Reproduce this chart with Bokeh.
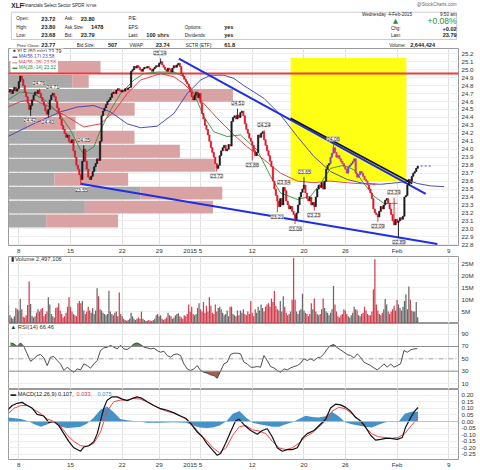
import numpy as np
from bokeh.plotting import figure
from bokeh.layouts import column
from bokeh.models import (Range1d, FixedTicker, ColumnDataSource, LabelSet, Label,
                          Span, PrintfTickFormatter)
from bokeh.core.properties import value
from bokeh.embed import file_html
from bokeh.resources import INLINE

FONT = "Liberation Sans"

# ---------------- data ----------------
# x = hourly bar index, 0 = Mon 8-Dec-2014 09:30 (Dec 24 is a 4-bar half day)
date_ticks = [0, 35, 70, 95, 116, 123, 158, 193, 221, 256, 291]
date_labels = ["8", "15", "22", "29", "2015", "5", "12", "20", "26", "Feb", "9"]

close = [
    24.72, 24.75, 24.70, 24.74, 24.78, 24.73, 24.76,   # Dec 5
    24.85, 24.92, 24.88, 24.80, 24.72, 24.66, 24.58,   # Dec 8
    24.50, 24.55, 24.62, 24.68, 24.72, 24.70, 24.74,   # Dec 9
    24.70, 24.65, 24.60, 24.55, 24.48, 24.44, 24.50,   # Dec 10
    24.62, 24.68, 24.70, 24.66, 24.60, 24.52, 24.45,   # Dec 11
    24.38, 24.30, 24.25, 24.20, 24.15, 24.18, 24.10,   # Dec 12
    24.08, 24.12, 23.98, 23.90, 23.80, 23.75, 23.68,   # Dec 15
    23.62, 23.85, 24.00, 23.85, 23.75, 23.65, 23.62,   # Dec 16
    23.66, 23.72, 23.78, 23.82, 23.88, 23.86, 24.10,   # Dec 17
    24.42, 24.48, 24.52, 24.56, 24.60, 24.62, 24.65,   # Dec 18
    24.70, 24.72, 24.70, 24.74, 24.76, 24.74, 24.72,   # Dec 19
    24.74, 24.73, 24.76, 24.75, 24.77, 24.78, 24.98,   # Dec 22
    25.00, 25.04, 25.02, 25.05, 25.03, 25.00, 24.98,   # Dec 23
    25.01, 25.03, 25.02, 25.04,                        # Dec 24
    25.02, 25.00, 24.98, 25.01, 25.03, 25.05, 25.04,   # Dec 26
    25.08, 25.10, 25.06, 25.03, 25.00, 24.98, 25.02,   # Dec 29
    25.00, 24.97, 25.02, 25.05, 25.03, 25.06, 25.08,   # Dec 30
    25.04, 24.95, 24.92, 24.88, 24.85, 24.82, 24.78,   # Dec 31
    24.72, 24.66, 24.62, 24.68, 24.72, 24.65, 24.70,   # Jan 2
    24.58, 24.45, 24.38, 24.30, 24.25, 24.18, 24.10,   # Jan 5
    24.02, 23.96, 23.90, 23.82, 23.76, 23.80, 23.92,   # Jan 6
    23.98, 24.02, 24.05, 23.98, 24.00, 24.06, 24.04,   # Jan 7
    24.35, 24.40, 24.42, 24.38, 24.43, 24.40, 24.46,   # Jan 8
    24.48, 24.42, 24.32, 24.25, 24.20, 24.14, 24.10,   # Jan 9
    24.05, 23.98, 23.92, 23.96, 24.18, 24.15, 24.20,   # Jan 12
    24.22, 24.12, 24.05, 23.98, 23.92, 23.85, 23.78,   # Jan 13
    23.60, 23.50, 23.42, 23.35, 23.28, 23.38, 23.30,   # Jan 14
    23.52, 23.48, 23.35, 23.30, 23.25, 23.28, 23.22,   # Jan 15
    23.18, 23.12, 23.20, 23.30, 23.40, 23.46, 23.50,   # Jan 16
    23.55, 23.45, 23.38, 23.35, 23.40, 23.30, 23.33,   # Jan 20
    23.28, 23.40, 23.50, 23.55, 23.52, 23.58, 23.50,   # Jan 21
    23.60, 23.75, 23.80, 23.82, 23.90, 23.95, 24.02,   # Jan 22
    23.96, 23.90, 23.92, 23.88, 23.85, 23.82, 23.78,   # Jan 23
    23.75, 23.70, 23.78, 23.80, 23.82, 23.85, 23.88,   # Jan 26
    23.70, 23.65, 23.68, 23.72, 23.70, 23.66, 23.62,   # Jan 27
    23.60, 23.55, 23.50, 23.45, 23.38, 23.25, 23.20,   # Jan 28
    23.18, 23.15, 23.22, 23.28, 23.25, 23.30, 23.36,   # Jan 29
    23.38, 23.32, 23.25, 23.18, 23.10, 23.05, 23.12,   # Jan 30
    23.08, 23.10, 23.14, 23.12, 23.16, 23.40, 23.42,   # Feb 2
    23.55, 23.62, 23.60, 23.66, 23.70, 23.72, 23.76,   # Feb 3
    23.79,                                             # Feb 4
]

volume_m = [
    7.8, 3.5, 2.5, 2.0, 3.0, 6.5, 6.0,
    5.5, 10.3, 6.0, 2.8, 2.5, 3.5, 7.8,
    17.6, 8.2, 3.2, 2.5, 3.0, 4.5, 6.0,
    5.0, 6.0, 6.5, 3.0, 4.0, 5.0, 11.0,
    8.0, 4.0, 3.0, 2.5, 6.5, 6.8, 8.5,
    5.5, 4.0, 2.5, 3.0, 4.5, 7.0, 11.0,
    7.0, 5.0, 4.0, 3.5, 3.0, 8.5, 9.5,
    8.5, 9.5, 5.5, 4.0, 5.0, 7.0, 5.5,
    4.5, 6.5, 4.0, 5.5, 14.8, 11.5, 6.0,
    5.5, 4.5, 4.0, 3.5, 4.0, 13.8, 5.0,
    4.0, 3.5, 4.5, 5.0, 3.0, 13.0, 4.0,
    3.0, 2.0, 1.5, 1.2, 1.5, 2.0, 4.5,
    3.0, 2.0, 1.5, 2.0, 2.5, 2.0, 5.0,
    2.0, 1.5, 1.0, 1.2,
    1.5, 1.2, 1.0, 1.5, 2.0, 3.5, 4.0,
    3.0, 3.5, 2.0, 1.5, 2.0, 2.5, 4.5,
    3.5, 3.0, 2.0, 2.5, 3.5, 4.0, 4.3,
    3.0, 2.5, 2.0, 3.5, 3.0, 4.0, 8.0,
    5.0, 7.0, 4.0, 3.5, 4.0, 6.5, 8.5,
    6.0, 5.0, 9.0, 4.5, 7.5, 5.0, 11.0,
    7.5, 4.5, 4.0, 8.0, 5.0, 6.5, 7.0,
    6.0, 4.5, 3.5, 4.0, 5.5, 3.0, 7.0,
    7.0, 4.0, 3.5, 3.0, 5.5, 3.5, 5.5,
    4.5, 6.0, 4.0, 3.5, 5.0, 4.0, 9.5,
    4.5, 3.0, 6.0, 4.5, 7.0, 5.5, 8.0,
    6.5, 5.0, 7.0, 8.0, 8.5, 7.0, 10.5,
    9.0, 13.7, 7.5, 6.0, 5.5, 9.5, 5.0,
    11.5, 7.0, 4.5, 3.5, 4.0, 5.0, 10.0,
    27.5, 10.0, 5.0, 4.0, 5.5, 6.0, 12.5,
    5.5, 4.5, 4.0, 3.0, 4.0, 8.5, 6.0,
    10.5, 5.0, 4.0, 3.5, 4.0, 6.0, 10.5,
    6.5, 5.0, 4.5, 3.5, 4.5, 6.0, 15.8,
    8.0, 5.0, 3.0, 2.5, 3.5, 4.0, 6.0,
    5.5, 4.0, 3.0, 2.5, 3.5, 4.5, 7.0,
    6.0, 5.5, 3.5, 3.0, 4.0, 4.5, 7.0,
    5.5, 4.0, 3.5, 3.5, 5.0, 14.3, 27.0,
    8.0, 5.5, 4.0, 3.5, 4.5, 6.0, 10.3,
    8.0, 5.0, 4.0, 5.0, 6.0, 7.5, 5.5,
    10.0, 8.0, 6.5, 5.5, 7.0, 9.5, 12.3,
    6.0, 15.5, 10.0, 5.5, 5.0, 5.0, 9.0,
    2.6,
]

# annotated swing highs / lows
swing_bar = [13.6, 23.0, 44.0, 95.5, 148.3, 165.9, 193.4, 212.8, 253.9,
             7.5, 19.7, 42.5, 133.9, 158.0, 174.9, 179.4, 187.3, 199.7, 243.1, 257.3]
swing_price = [24.76, 24.71, 24.05, 25.14, 24.51, 24.24, 23.65, 24.06, 23.39,
               24.42, 24.40, 23.55, 23.72, 23.86, 23.21, 23.64, 23.06, 23.23, 23.09, 22.89]
swing_kind = ["hi"] * 9 + ["lo"] * 11

# volume-by-price rows (price level, down volume, up volume)
vbp_price = [25.028, 24.853, 24.677, 24.502, 24.326, 24.151,
             23.975, 23.800, 23.624, 23.449, 23.273, 23.098]
vbp_down = [29.6, 43.1, 70.2, 34.1, 12.7, 45.4, 62.3, 60.3, 31.1, 89.4, 51.7, 25.5]
vbp_up = [32.7, 11.2, 81.7, 51.3, 32.7, 39.9, 53.7, 79.9, 49.9, 55.3, 86.7, 48.7]

# moving averages
ma56f_x = [-7.4, 10, 28.2, 39.5, 50.8, 62, 73.4, 82.4, 93.7, 105, 114, 123, 129.8,
           138.8, 145.6, 152.3, 165.9, 177.2, 188.5, 199.7, 211, 222.3, 233.6, 244.9,
           256.2, 265.2, 269.7, 278.7, 287.8]
ma56f = [24.16, 24.32, 24.47, 24.53, 24.55, 24.47, 24.32, 24.27, 24.29, 24.45, 24.70,
         24.87, 24.93, 24.93, 24.89, 24.80, 24.64, 24.43, 24.16, 23.91, 23.72, 23.62,
         23.57, 23.56, 23.58, 23.60, 23.57, 23.54, 23.53]
ma56b_x = [-7.4, 1.1, 10, 19.2, 32.7, 44, 55.3, 64.3, 73.4, 82.4, 96, 105, 111.8, 123,
           134.3, 145.6, 154.6, 165.9, 177.2, 188.5, 199.7, 211, 222.3, 229.1, 242]
ma56b = [24.53, 24.60, 24.62, 24.55, 24.41, 24.28, 24.32, 24.47, 24.70, 24.87, 24.95,
         24.91, 24.82, 24.62, 24.39, 24.18, 24.03, 23.87, 23.70, 23.60, 23.58, 23.60,
         23.58, 23.57, 23.56]
ma28_x = [-7.4, 1, 10, 19, 28, 35, 41.8, 44, 50.8, 55.3, 62, 68.9, 77.9, 84.7, 93.7, 105,
          111.8, 118.5, 125.3, 132, 141, 150, 161.4, 170.4, 177.2, 188.5, 197.5, 204.3,
          211, 220, 227, 233.6, 240.4, 247.1, 256.2]
ma28 = [24.62, 24.72, 24.70, 24.60, 24.43, 24.24, 23.99, 23.95, 24.03, 24.24, 24.49,
        24.70, 24.87, 24.95, 24.97, 24.97, 24.91, 24.70, 24.41, 24.22, 24.16, 24.18,
        23.99, 23.66, 23.45, 23.37, 23.41, 23.57, 23.76, 23.80, 23.74, 23.57, 23.41,
        23.32, 23.32]

# user-drawn annotations
trend_x0 = [108.3, 41.8, 184.0]
trend_y0 = [25.14, 23.567, 24.39]
trend_x1 = [275.4, 283.3, 266.3]
trend_y1 = [23.44, 22.81, 23.57]
trend_color = ["#1f2fe6", "#1f2fe6", "#111111"]
resistance = 24.95
zone_x = [184.0, 262.3]
zone_y = [23.60, 25.15]
last_price = 23.79

# RSI(14), evenly sampled from bar -5.6 to 269.7
rsi = [75.8, 74.2, 69.9, 75.8, 70.0, 58.0, 46.0, 50.0, 55.3, 57.0,
       51.5, 39.0, 52.6, 53.7, 47.2, 41.8, 31.0, 36.4, 32.0, 28.3,
       33.7, 32.0, 41.8, 39.0, 34.8, 41.8, 47.2, 63.4, 67.7, 68.8,
       71.5, 68.8, 66.0, 71.5, 66.0, 65.0, 68.8, 74.2, 75.8, 73.0,
       68.8, 67.7, 66.0, 67.2, 63.4, 60.7, 62.3, 55.3, 52.6, 57.0,
       58.0, 55.3, 41.8, 33.7, 31.0, 33.7, 39.0, 31.0, 28.3, 26.7,
       24.0, 22.9, 18.5, 30.0, 41.8, 44.5, 57.0, 59.1, 59.1, 58.0,
       44.5, 41.8, 36.4, 36.4, 37.5, 36.4, 55.3, 47.2, 37.5, 35.3,
       31.0, 28.3, 33.7, 32.0, 35.3, 37.5, 39.0, 42.9, 50.0, 47.2,
       50.0, 47.2, 51.5, 52.6, 58.0, 66.0, 71.5, 73.1, 67.7, 64.5,
       60.7, 57.0, 55.3, 51.5, 58.0, 52.6, 44.5, 41.8, 39.0, 35.3,
       32.0, 36.4, 41.8, 36.4, 41.8, 36.4, 39.0, 41.8, 63.4, 60.7,
       64.5, 66.0, 66.46]

# MACD(12,26,9)
macd_x = [-7.4, -4.5, -1.1, 2.3, 5.7, 9.0, 12.4, 16.9, 20.3, 23.7, 27.1, 30.5, 33.9,
          37.3, 41.8, 44.0, 47.4, 50.8, 53.1, 55.3, 57.6, 59.8, 63.2, 66.6, 70.0,
          73.4, 76.8, 80.1, 83.5, 86.9, 91.4, 96.0, 100.5, 105.0, 109.5, 112.9, 116.3,
          120.8, 124.2, 127.5, 130.9, 134.3, 136.6, 140.0, 143.3, 146.7, 149.0, 152.4,
          156.9, 161.4, 164.8, 168.2, 171.5, 174.9, 178.3, 181.7, 185.1, 188.5, 191.9,
          195.2, 199.8, 204.3, 207.7, 211.0, 214.4, 217.8, 221.2, 224.6, 228.0, 231.4,
          234.7, 238.1, 241.5, 244.9, 248.3, 251.7, 256.2, 259.6, 261.8, 265.2, 267.5,
          270.2]
macd = [0.090, 0.122, 0.139, 0.146, 0.122, 0.103, 0.054, 0.042, -0.007, 0.000, -0.031,
        -0.092, -0.153, -0.200, -0.226, -0.194, -0.184, -0.153, -0.092, 0.005, 0.103,
        0.163, 0.188, 0.188, 0.171, 0.159, 0.176, 0.188, 0.176, 0.151, 0.122, 0.098,
        0.086, 0.066, 0.042, 0.025, -0.014, -0.080, -0.116, -0.170, -0.214, -0.257,
        -0.243, -0.165, -0.080, 0.005, 0.018, -0.024, -0.068, -0.097, -0.068, -0.055,
        -0.116, -0.200, -0.226, -0.214, -0.214, -0.200, -0.128, -0.092, -0.068, -0.019,
        0.018, 0.103, 0.132, 0.127, 0.108, 0.078, 0.030, 0.005, -0.043, -0.104, -0.141,
        -0.136, -0.128, -0.128, -0.136, -0.121, -0.043, 0.030, 0.073, 0.107]
# signal and histogram, evenly sampled from bar -7.4 to 270.2
signal = [0.059, 0.103, 0.122, 0.122, 0.090, 0.059, 0.018, 0.000, -0.038, -0.104,
          -0.153, -0.184, -0.189, -0.165, -0.080, 0.078, 0.151, 0.163, 0.163, 0.176,
          0.171, 0.151, 0.122, 0.098, 0.078, 0.066, 0.042, 0.018, -0.031, -0.092,
          -0.141, -0.200, -0.238, -0.200, -0.104, -0.038, -0.031, -0.063, -0.072, -0.092,
          -0.153, -0.200, -0.214, -0.200, -0.165, -0.116, -0.087, -0.043, 0.005, 0.078,
          0.108, 0.098, 0.059, 0.018, -0.043, -0.092, -0.116, -0.121, -0.128, -0.121,
          -0.092, -0.031, 0.033]
hist = [0.030, 0.025, 0.020, 0.005, -0.020, -0.040, -0.020, 0.000, -0.040, -0.050,
        -0.045, -0.040, -0.015, 0.030, 0.090, 0.115, 0.070, 0.020, 0.010, 0.005,
        0.000, -0.010, -0.010, -0.010, -0.008, -0.005, -0.008, -0.010, -0.030, -0.045,
        -0.050, -0.045, -0.030, 0.000, 0.060, 0.080, 0.030, -0.010, -0.020, -0.030,
        -0.040, -0.040, -0.020, -0.005, 0.020, 0.045, 0.035, 0.030, 0.040, 0.075,
        0.040, -0.005, -0.020, -0.030, -0.040, -0.045, -0.025, -0.008, 0.005, -0.005,
        0.060, 0.075, 0.075]

# ---------------- layout helpers ----------------
W = 480
LB = 8
RB = 22
xr = Range1d(-6.97, 297.6)


def style_axis(a, standoff):
    a.axis_line_color = None
    a.major_tick_line_color = None
    a.minor_tick_line_color = None
    a.major_tick_out = 0
    a.major_tick_in = 0
    a.minor_tick_out = 0
    a.minor_tick_in = 0
    a.major_label_text_font = FONT
    a.major_label_text_font_size = "6.2px"
    a.major_label_text_color = "#333333"
    a.major_label_standoff = standoff


def panel(height, y0, y1, ticks, fmt=None, overrides=None, bottom=0):
    p = figure(width=W, height=height, x_range=xr,
               y_range=Range1d(y0, y1), output_backend="svg", toolbar_location=None,
               y_axis_location="right", x_axis_location="below" if bottom else None,
               min_border_left=LB, min_border_right=RB, min_border_top=0,
               min_border_bottom=bottom)
    p.outline_line_color = "#9a9a9a"
    p.background_fill_color = "white"
    p.border_fill_color = "white"
    ax = p.yaxis[0]
    ax.ticker = FixedTicker(ticks=ticks)
    if fmt:
        ax.formatter = PrintfTickFormatter(format=fmt)
    if overrides:
        ax.major_label_overrides = overrides
    style_axis(ax, 3)
    if bottom:
        xa = p.xaxis[0]
        xa.ticker = FixedTicker(ticks=date_ticks)
        xa.major_label_overrides = dict(zip(date_ticks, date_labels))
        style_axis(xa, 1)
    p.xgrid.ticker = FixedTicker(ticks=date_ticks)
    p.xgrid.grid_line_color = "#e0e0e0"
    p.ygrid.ticker = FixedTicker(ticks=ticks)
    p.ygrid.grid_line_color = "#eeeeee"
    return p


def stext(p, x, y, text, color="#222222", size="5.8px", style="normal", bg=None):
    lab = Label(x=x, y=y, x_units="screen", y_units="screen", text=text,
                text_color=color, text_font=FONT, text_font_size=size,
                text_font_style=style, text_align="left", text_baseline="middle")
    if bg:
        lab.background_fill_color = bg
        lab.padding = 2
    p.add_layout(lab)


def axis_box(p, yv, text, border, color="#222222", bold=False, size="6px"):
    p.add_layout(Label(x=xr.end, y=yv, x_offset=1, text=text, text_font=FONT,
                       text_font_size=size, text_baseline="middle", text_align="left",
                       background_fill_color="white", border_line_color=border,
                       text_color=color, text_font_style="bold" if bold else "normal",
                       padding=1))


# ---------------- header ----------------
hdr = figure(width=W, height=48, x_range=Range1d(0, W), y_range=Range1d(48, 0),
             output_backend="svg", toolbar_location=None, min_border=0,
             x_axis_location=None, y_axis_location=None)
hdr.outline_line_color = None
hdr.grid.visible = False
hdr.quad(left=[3], right=[478], top=[11.7], bottom=[39], fill_color=None,
         line_color="#cccccc")


def htext(x, y, t, size="4.6px", style="normal", color="#222222", align="left", font=FONT):
    hdr.text(x=[x], y=[y], text=[t], text_font=value(font), text_font_size=size,
             text_font_style=style, text_color=color, text_align=align,
             text_baseline="middle")


htext(3, 4.8, "XLF", size="6.5px", style="bold")
htext(15, 4.8, "Financials Select Sector SPDR", size="4.5px")
htext(83, 5.0, "NYSE", size="3.8px")
htext(478, 4.2, "@StockCharts.com", size="4.6px", color="#666666", align="right")

r1, r2, r3, r4 = 18.3, 26.7, 34.7, 44.5
VS = "5.6px"
for y, a, b, c, d, e, f, g, h in [
    (r1, "Open:", "23.72", "Ask:", "23.80", "P/E:", "", "", ""),
    (r2, "High:", "23.80", "Ask Size:", "1478", "EPS:", "", "Options:", "yes"),
    (r3, "Low:", "23.68", "Bid:", "23.79", "Last:", "100 shrs", "Dividends:", "yes"),
]:
    htext(8.3, y, a)
    htext(35, y, b, size=VS, style="bold")
    htext(60, y, c)
    htext(88 if c == "Ask Size:" else 77, y, d, size=VS, style="bold")
    htext(128, y, e)
    htext(147, y, f, size=VS, style="bold")
    htext(188, y, g)
    htext(230, y, h, size=VS, style="bold")
htext(9, r4, "Prev Close:", size="4.4px")
htext(35, r4, "23.77", size=VS, style="bold")
htext(72.7, r4, "Bid Size:")
htext(106, r4, "507", size=VS, style="bold")
htext(129, r4, "VWAP:")
htext(157, r4, "23.74", size=VS, style="bold")
htext(189, r4, "SCTR (ETF):")
htext(230, r4, "61.8", size=VS, style="bold")
htext(406, r4, "Volume:")
htext(455, r4, "2,644,424", size=VS, style="bold", align="right")

htext(377, 14.0, "Wednesday")
htext(405, 14.0, "4-Feb-2015")
htext(478, 14.0, "9:50 am", align="right")
htext(410, 20.5, "▲", size="6.5px", color="#2e8b3a", font="DejaVu Sans")
htext(478, 20.8, "+0.08%", size="8.5px", color="#2e8b3a", align="right")
htext(408, 28.3, "Chg:")
htext(478, 28.3, "+0.02", size=VS, style="bold", align="right")
htext(408, 34.7, "Last:")
htext(478, 34.7, "23.79", size=VS, style="bold", align="right")

# ---------------- price panel ----------------
price_ticks = [round(22.8 + 0.1 * i, 1) for i in range(25)]
main = panel(208, 22.791, 25.266, price_ticks, fmt="%.1f", bottom=10)

bars = np.arange(-7, -7 + len(close))
c = np.array(close)
o = np.r_[c[0], c[:-1]]
hi = np.maximum(o, c)
lo = np.minimum(o, c)
for b, v, k in zip(swing_bar, swing_price, swing_kind):
    i = int(round(b)) + 7
    if k == "hi":
        hi[i] = max(hi[i], v)
    else:
        lo[i] = min(lo[i], v)
up = c >= o
zone = (bars >= 211) & (bars <= 236)
col = np.where(up, np.where(zone, "#6a4fc8", "#1a1a1a"),
               np.where(zone, "#d0309a", "#e0192b"))

# volume by price
dn = np.array(vbp_down)
upv = np.array(vbp_up)
main.hbar(y=vbp_price, left=xr.start, right=xr.start + dn, height=0.163,
          fill_color="#a9a9a9", line_color=None)
main.hbar(y=vbp_price, left=xr.start + dn, right=xr.start + dn + upv, height=0.163,
          fill_color="#daa3a3", line_color=None)

# highlight zone and resistance
main.quad(left=[zone_x[0]], right=[zone_x[1]], bottom=[zone_y[0]], top=[zone_y[1]],
          fill_color="#ffff14", line_color=None)
main.hspan(y=[resistance], line_color="#ee3b3b", line_width=2)

# moving averages
main.line(ma56f_x, ma56f, line_color="#3b3bb0", line_width=0.9)
main.line(ma56b_x, ma56b, line_color="#d9363e", line_width=0.9)
main.line(ma28_x, ma28, line_color="#2f8f3a", line_width=0.9)

# trend lines
main.segment(x0=trend_x0, y0=trend_y0, x1=trend_x1, y1=trend_y1,
             line_color=trend_color, line_width=[2, 2, 1.6])

# candles
csrc = ColumnDataSource(dict(x=bars, o=o, c=c, hi=hi, lo=lo, b0=np.minimum(o, c),
                             b1=np.maximum(o, c), col=col))
main.segment(x0="x", y0="lo", x1="x", y1="hi", line_color="col", line_width=0.9,
             source=csrc)
main.vbar(x="x", bottom="b0", top="b1", width=0.95, fill_color="col",
          line_color="col", line_width=0.5, source=csrc)
main.segment(x0=[bars[-1] + 2], y0=[last_price], x1=[bars[-1] + 9], y1=[last_price],
             line_color="#4a4aff", line_width=1, line_dash="2 2")

# swing labels
lsrc = ColumnDataSource(dict(x=swing_bar, y=swing_price,
                             t=["%.2f" % v for v in swing_price],
                             dy=[5.5 if k == "hi" else -4.5 for k in swing_kind]))
main.add_layout(LabelSet(x="x", y="y", text="t", y_offset="dy", source=lsrc,
                         text_font=value(FONT), text_font_size="5px",
                         text_color="#333333", text_align="center",
                         text_baseline="middle", background_fill_color="white",
                         background_fill_alpha=0.9, border_line_color="#b5b5b5"))

# legend
stext(main, 2, 195, "▮ XLF (60 min) 23.79", size="5.2px", bg="white")
stext(main, 2, 189.3, "▬ MA(56,17) 23.58", color="#3b3bb0", size="4.8px", bg="white")
stext(main, 2, 183.3, "▬ MA(56,-28) 23.58", color="#d9363e", size="4.8px", bg="white")
stext(main, 2, 177.7, "▬ MA(28,-14) 23.32", color="#2f8f3a", size="4.8px", bg="white")

axis_box(main, last_price, "23.79", "#222222", bold=True)
axis_box(main, 23.51, "23.58", "#3b3bb0", color="#3b3bb0")
axis_box(main, ma28[-1], "23.32", "#2f8f3a", color="#2f8f3a")

# ---------------- volume panel ----------------
vticks = [5, 10, 15, 20, 25]
vol = panel(67, 0, 28.15, vticks, overrides={v: "%dM" % v for v in vticks})
vcol = np.where(up, "#6a6a6a", "#d1404f")
vol.vbar(x=bars, top=volume_m, bottom=0, width=0.85, fill_color=vcol, line_color=None)
stext(vol, 2, 64.5, "▮ Volume 2,497,106", color="#333333", size="5.8px")
axis_box(vol, volume_m[-1], "2,497,106", "#444444", size="4.2px")

# ---------------- RSI panel ----------------
rsi_ticks = [10, 30, 50, 70, 90]
rp = panel(66, 0.3, 107.2, rsi_ticks)
rp.ygrid.ticker = FixedTicker(ticks=[10, 90])
rx = np.linspace(-5.6, 269.7, len(rsi))
ra = np.array(rsi)
rp.varea(x=rx, y1=70, y2=np.maximum(ra, 70), fill_color="#4f8a4f")
rp.varea(x=rx, y1=np.minimum(ra, 30), y2=30, fill_color="#a65c55")
rp.add_layout(Span(location=70, dimension="width", line_color="#8a8a8a", line_width=1))
rp.add_layout(Span(location=30, dimension="width", line_color="#8a8a8a", line_width=1))
rp.add_layout(Span(location=50, dimension="width", line_color="#8a8a8a", line_width=0.8,
                   line_dash="5 2 1 2"))
rp.line(rx, ra, line_color="#3a3a3a", line_width=0.9)
stext(rp, 2, 62.3, "▲ RSI(14) 66.46", color="#333333", size="5.8px")
axis_box(rp, rsi[-1], "66.46", "#444444")

# ---------------- MACD panel ----------------
mticks = [round(-0.25 + 0.05 * i, 2) for i in range(10)]
mp = panel(81, -0.289, 0.244, mticks, fmt="%.2f", bottom=8)
sx = np.linspace(-7.4, 270.2, len(signal))
mp.varea(x=sx, y1=0, y2=hist, fill_color="#3b8cc4", fill_alpha=0.95)
mp.add_layout(Span(location=0, dimension="width", line_color="#b8b8b8", line_width=0.8))
mp.line(sx, signal, line_color="#f04848", line_width=1)
mp.line(macd_x, macd, line_color="#111111", line_width=1.2)
stext(mp, 2, 66, "▬ MACD(12,26,9) 0.107,", color="#222222", size="5.6px")
stext(mp, 68, 66, "0.033,", color="#e03b3b", size="5.6px")
stext(mp, 89, 66, "0.075", color="#3b8cc4", size="5.6px")
axis_box(mp, macd[-1], "0.107", "#222222")
axis_box(mp, hist[-1] - 0.004, "0.075", "#3b8cc4", color="#3b8cc4")
axis_box(mp, signal[-1] - 0.006, "0.033", "#e03b3b", color="#e03b3b")

layout = column(hdr, main, vol, rp, mp, spacing=0)
open("out.html", "w").write(file_html(layout, INLINE))
